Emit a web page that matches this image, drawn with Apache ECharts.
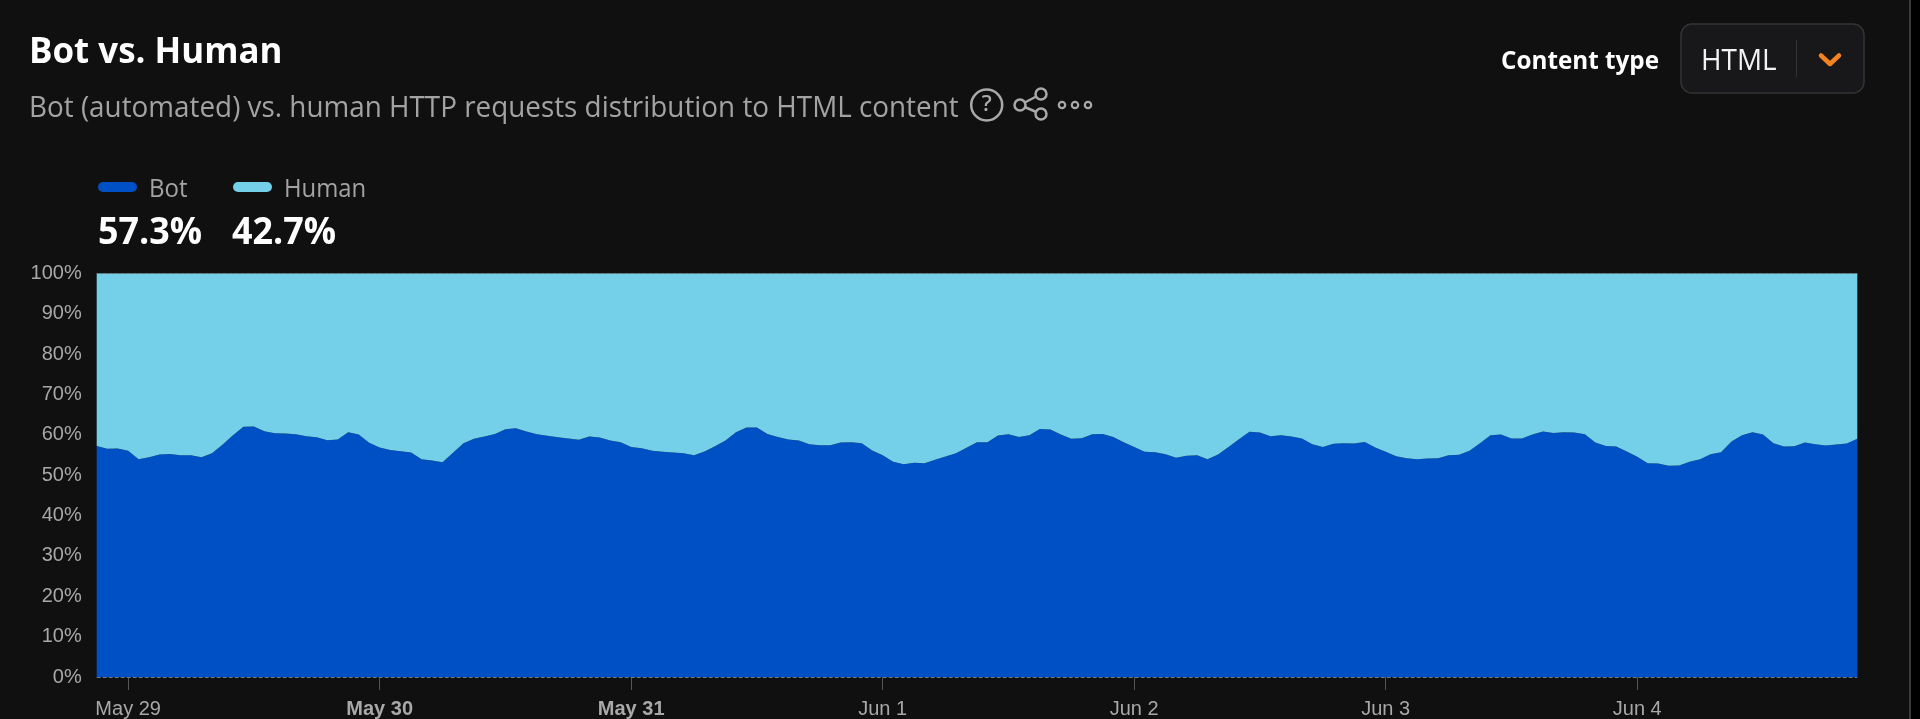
<!DOCTYPE html>
<html>
<head>
<meta charset="utf-8">
<title>Bot vs. Human</title>
<script src="https://cdn.jsdelivr.net/npm/echarts@6/dist/echarts.min.js"></script>
<style>
html,body{margin:0;padding:0;background:#101010;}
#chart{width:1920px;height:719px;}
</style>
</head>
<body>
<div id="chart"></div>
<script>
// Share of HTML requests per hour, May 28 21:00 to Jun 4 21:00.
const botShare = [
57.25,56.51,56.59,56.02,53.95,54.45,55.11,55.27,54.94,54.94,54.45,55.44,57.50,59.89,61.96,62.04,60.88,60.39,60.30,60.14,59.65,59.40,58.66,58.82,60.64,60.06,58.00,56.84,56.26,55.93,55.60,53.95,53.62,53.21,55.52,57.91,58.99,59.56,60.22,61.38,61.63,60.80,60.14,59.73,59.40,59.07,58.74,59.56,59.32,58.57,58.16,57.00,56.68,56.02,55.77,55.60,55.44,54.94,55.85,57.17,58.57,60.64,61.80,61.80,60.22,59.48,58.82,58.57,57.67,57.42,57.42,58.08,58.16,57.91,56.10,54.94,53.29,52.72,53.05,52.96,53.79,54.61,55.44,56.76,58.16,58.16,59.81,60.14,59.48,59.89,61.46,61.30,60.06,58.99,59.15,60.14,60.22,59.48,58.16,57.00,55.77,55.69,55.19,54.28,54.78,54.94,53.95,55.11,57.00,58.90,60.72,60.55,59.65,59.89,59.56,59.07,57.67,57.00,57.75,57.91,57.83,58.24,56.84,55.77,54.70,54.20,53.95,54.12,54.20,54.94,55.03,56.02,57.91,59.89,60.06,59.07,59.07,60.06,60.80,60.47,60.64,60.55,60.14,58.08,57.25,57.09,55.85,54.53,52.96,52.88,52.30,52.39,53.29,53.95,55.19,55.69,58.33,59.89,60.64,60.06,57.91,57.09,57.17,58.08,57.67,57.34,57.58,57.83,59.00
];
const humanShare = [
42.75,43.49,43.41,43.98,46.05,45.55,44.89,44.73,45.06,45.06,45.55,44.56,42.50,40.11,38.04,37.96,39.12,39.61,39.70,39.86,40.35,40.60,41.34,41.18,39.36,39.94,42.00,43.16,43.74,44.07,44.40,46.05,46.38,46.79,44.48,42.09,41.01,40.44,39.78,38.62,38.37,39.20,39.86,40.27,40.60,40.93,41.26,40.44,40.68,41.43,41.84,43.00,43.32,43.98,44.23,44.40,44.56,45.06,44.15,42.83,41.43,39.36,38.20,38.20,39.78,40.52,41.18,41.43,42.33,42.58,42.58,41.92,41.84,42.09,43.90,45.06,46.71,47.28,46.95,47.04,46.21,45.39,44.56,43.24,41.84,41.84,40.19,39.86,40.52,40.11,38.54,38.70,39.94,41.01,40.85,39.86,39.78,40.52,41.84,43.00,44.23,44.31,44.81,45.72,45.22,45.06,46.05,44.89,43.00,41.10,39.28,39.45,40.35,40.11,40.44,40.93,42.33,43.00,42.25,42.09,42.17,41.76,43.16,44.23,45.30,45.80,46.05,45.88,45.80,45.06,44.97,43.98,42.09,40.11,39.94,40.93,40.93,39.94,39.20,39.53,39.36,39.45,39.86,41.92,42.75,42.91,44.15,45.47,47.04,47.12,47.70,47.61,46.71,46.05,44.81,44.31,41.67,40.11,39.36,39.94,42.09,42.91,42.83,41.92,42.33,42.66,42.42,42.17,41.00
];
// Hour of the first sample is 21:00, so midnight falls on sample 3.
const dayLabels = ['May 29','May 30','May 31','Jun 1','Jun 2','Jun 3','Jun 4'];
const boldDays = ['May 30','May 31'];
const yTicks = [0,10,20,30,40,50,60,70,80,90,100];
const legendNames = ['Bot','Human'];
const legendValues = ['57.3%','42.7%'];
const seriesColors = ['#0050c5','#74cfe9'];

const firstMidnight = 3;
const hoursPerDay = 24;
const categories = botShare.map((_, i) => {
  const d = (i - firstMidnight) / hoursPerDay;
  return Number.isInteger(d) && dayLabels[d] ? dayLabels[d] : 'h' + i;
});
const isDayTick = (i) => (i - firstMidnight) % hoursPerDay === 0 && i >= firstMidnight;

const uiFont = '"Open Sans","Noto Sans",sans-serif';
const chartFont = '"Liberation Sans",Arial,sans-serif';

const txt = (x, y, text, size, color, weight, extra, scaleX) => ({
  type: 'text', x, y, scaleX: scaleX || 1, silent: true, z: 6,
  style: Object.assign({
    text, fill: color, fontFamily: uiFont, fontSize: size,
    fontWeight: weight || 'normal', verticalAlign: 'middle', textAlign: 'left'
  }, extra || {})
});

const iconStroke = '#a9a9a9';
const ring = (cx, cy, r, lw) => ({
  type: 'circle', shape: {cx, cy, r}, silent: true, z: 6,
  style: {fill: '#101010', stroke: iconStroke, lineWidth: lw}
});
const seg = (x1, y1, x2, y2) => ({
  type: 'line', shape: {x1, y1, x2, y2}, silent: true, z: 5,
  style: {stroke: iconStroke, lineWidth: 2.5}
});

const graphics = [
  txt(29, 53, 'Bot vs. Human', 36, '#ffffff', 700, null, 0.97),
  txt(29, 109, 'Bot (automated) vs. human HTTP requests distribution to HTML content', 29, '#a3a3a3', 'normal', null, 0.96),
  ring(986.7, 105, 15.5, 2.5),
  txt(986.7, 105, '?', 22, '#a9a9a9', 600, {textAlign: 'center'}),
  seg(1020, 105, 1041, 94), seg(1020, 105, 1041, 114),
  ring(1020, 105, 5.5, 2.5), ring(1041, 94, 5.5, 2.5), ring(1041, 114, 5.5, 2.5),
  ring(1062, 105, 3.2, 2.2), ring(1075, 105, 3.2, 2.2), ring(1088, 105, 3.2, 2.2),

  {type: 'rect', shape: {x: 98, y: 182, width: 39, height: 10, r: 5}, silent: true, style: {fill: seriesColors[0]}},
  txt(149, 190, legendNames[0], 25, '#a3a3a3', 'normal', null, 0.96),
  {type: 'rect', shape: {x: 233, y: 182, width: 39, height: 10, r: 5}, silent: true, style: {fill: seriesColors[1]}},
  txt(284, 190, legendNames[1], 25, '#a3a3a3', 'normal', null, 0.955),
  txt(98, 233, legendValues[0], 37, '#ffffff', 700, null, 0.97),
  txt(232, 233, legendValues[1], 37, '#ffffff', 700, null, 0.97),

  txt(1501, 62, 'Content type', 25, '#ffffff', 700, null, 0.97),
  {type: 'rect', shape: {x: 1681, y: 24, width: 183, height: 69, r: 11}, silent: true,
   style: {fill: '#18181a', stroke: '#333335', lineWidth: 1.5}},
  txt(1701, 61, 'HTML', 30, '#f2f2f2', 'normal', null, 0.93),
  {type: 'line', shape: {x1: 1796.5, y1: 40, x2: 1796.5, y2: 77}, silent: true, style: {stroke: '#333335', lineWidth: 1}},
  {type: 'polyline', shape: {points: [[1821, 55.5], [1830, 64], [1839, 55.5]]}, silent: true,
   style: {fill: 'none', stroke: '#f6821f', lineWidth: 4.5, lineCap: 'round', lineJoin: 'round'}},

  {type: 'rect', shape: {x: 1909, y: 0, width: 2, height: 719}, silent: true, style: {fill: '#3a3a3a'}},
  {type: 'rect', shape: {x: 1911, y: 0, width: 9, height: 719}, silent: true, style: {fill: '#000000'}}
];

const chart = echarts.init(document.getElementById('chart'), null, {renderer: 'canvas'});
chart.setOption({
  animation: false,
  backgroundColor: '#101010',
  textStyle: {fontFamily: chartFont},
  grid: {left: 96.7, right: 62.7, top: 273.3, bottom: 41.7, containLabel: false},
  xAxis: {
    type: 'category',
    boundaryGap: false,
    data: categories,
    axisLine: {show: false},
    axisTick: {
      show: true, length: 13, alignWithLabel: true,
      interval: (i) => isDayTick(i),
      lineStyle: {color: '#555555', width: 1}
    },
    axisLabel: {
      interval: (i) => isDayTick(i),
      margin: 22,
      color: '#a8a8a8',
      fontSize: 20,
      fontFamily: chartFont,
      formatter: (v) => boldDays.includes(v) ? '{b|' + v + '}' : v,
      rich: {b: {fontWeight: 700, fontSize: 20, color: '#a8a8a8', fontFamily: chartFont}}
    }
  },
  yAxis: {
    type: 'value', min: yTicks[0], max: yTicks[yTicks.length - 1], interval: 10,
    axisLine: {show: false}, axisTick: {show: false}, splitLine: {show: false},
    axisLabel: {
      margin: 15, color: '#a8a8a8', fontSize: 20, fontFamily: chartFont,
      padding: [0, 0, 7, 0], formatter: '{value}%'
    }
  },
  series: [
    {
      name: legendNames[0], type: 'line', stack: 'share', data: botShare,
      showSymbol: false, lineStyle: {width: 0}, areaStyle: {color: seriesColors[0], opacity: 1},
      itemStyle: {color: seriesColors[0]}
    },
    {
      name: legendNames[1], type: 'line', stack: 'share', data: humanShare,
      showSymbol: false, lineStyle: {width: 0}, areaStyle: {color: seriesColors[1], opacity: 1},
      itemStyle: {color: seriesColors[1]},
      markLine: {
        silent: true, symbol: 'none', label: {show: false},
        lineStyle: {color: '#6b7c84', type: 'dashed', width: 1},
        data: [{yAxis: 0}, {yAxis: 100}]
      }
    }
  ],
  graphic: graphics
});
</script>
</body>
</html>
